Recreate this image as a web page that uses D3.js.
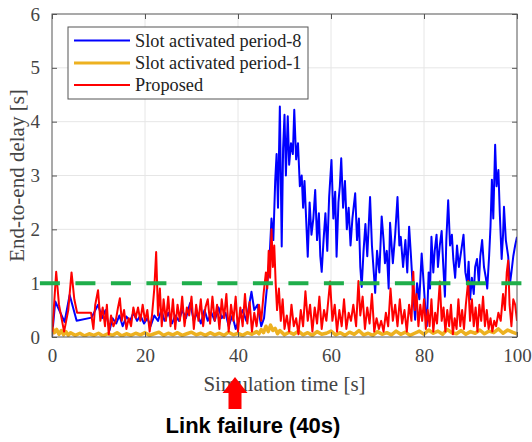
<!DOCTYPE html>
<html><head><meta charset="utf-8">
<script src="https://cdn.jsdelivr.net/npm/d3@7"></script>
<style>html,body{margin:0;padding:0;background:#fff;}svg{display:block;}</style>
</head><body>
<script>
// ---- data ----
const xTicks = [0, 20, 40, 60, 80, 100];
const yTicks = [0, 1, 2, 3, 4, 5, 6];
const seriesNames = ["Slot activated period-8", "Slot activated period-1", "Proposed"];
const thresholdValue = 1;
const thresholdSpan = [-2.6, 101.5];
const annotationTime = 40;
const annotationText = "Link failure (40s)";

const blueTime = [0,0.7,2.7,3.8,5.3,8.5,9.9,10.8,11.5,12.4,13,13.8,14.5,15.2,16,16.8,17.5,18.3,19,19.8,20.5,21.2,22,22.8,23.5,24.2,25,25.8,26.5,27.3,28,28.8,29.7,30.5,31.2,32,32.8,33.5,34.3,35,35.8,36.5,37.3,38,38.8,39.5,40.3,41,41.8,42.9,43.5,44.2,45,45.6,46.2,
46.8,47.2,47.6,48,48.3,48.6,49,49.4,49.7,50,50.3,50.7,51,51.4,51.8,52.1,52.5,52.9,53.3,53.7,54,54.3,54.7,55,55.4,55.8,56.2,56.6,57,57.4,57.7,58,58.4,58.8,59.2,59.6,60.1,60.5,60.9,61.2,61.6,61.9,62.2,62.6,63,63.4,63.8,64.2,64.6,65.2,65.6,66,66.3,66.6,67,67.4,67.8,68.4,68.8,69.2,69.5,69.9,70.4,70.9,71.3,71.6,72,72.4,72.7,73.3,73.8,74.3,74.7,75,75.5,76,76.4,76.8,77.2,77.6,78.1,78.5,79,79.5,80,80.3,80.6,81,81.3,81.6,82,82.3,82.7,83,83.4,83.8,84.1,84.5,84.8,85.2,85.6,86,86.3,86.7,87.1,87.5,88,88.5,88.9,89.3,89.6,89.9,90.3,90.7,91,91.4,91.8,92.1,92.5,92.9,93.3,93.6,94,94.3,94.6,94.9,95.3,95.6,96,96.3,96.7,97,97.2,97.6,98.1,98.5,98.8,99.2,99.6,100];
const blueDelay = [0,0.66,0.28,0.78,0.3,0.36,0.6,0.35,0.5,0.13,0.35,0.25,0.4,0.2,0.38,0.3,0.45,0.3,0.4,0.25,0.35,0.2,0.4,0.3,0.5,0.3,0.45,0.25,0.4,0.3,0.5,0.35,0.63,0.3,0.45,0.25,0.5,0.3,0.45,0.3,0.55,0.35,0.45,0.2,0.4,0.15,0.35,0.5,0.3,0.84,0.5,0.6,0.2,0.35,0.9,
1.5,2.2,1.8,2.9,3.4,2.4,4.28,1.68,3.5,4.13,3.0,4.1,3.2,3.6,3.4,4.22,3.3,3.6,2.8,3.0,2.4,2.9,2.1,1.49,2.5,1.9,2.2,2.73,1.8,2.3,1.5,1.21,1.8,2.3,1.6,2.6,3.29,2.2,2.7,1.49,2.5,2.8,3.32,2.4,2.9,2.0,2.4,1.7,2.2,2.67,1.8,2.2,1.3,0.93,1.6,2.1,1.5,2.6,1.7,1.2,0.82,1.6,1.2,2.24,1.8,1.37,1.6,0.9,2.12,1.37,1.9,2.6,1.7,1.86,1.3,1.8,1.2,2.05,1.5,0.9,0.32,1.0,0.7,1.55,0.9,0.5,0.2,1.2,0.9,1.86,1.2,1.6,1.9,1.3,1.7,1.97,1.4,0.75,1.8,2.54,1.7,1.9,1.45,1.1,1.7,1.3,1.6,1.9,1.2,1.0,1.4,0.7,1.1,0.8,1.3,1.45,1.0,1.5,1.8,1.3,1.1,0.9,1.5,2.05,2.92,2.2,3.57,2.8,3.1,2.3,1.45,1.9,2.42,1.8,1.5,1.0,1.2,1.5,1.7,1.86];

const orangeTime = [0,0.5,1,1.5,2,2.5,3,3.5,4,5,6,7,8,9,10,11,12,13,14,15,16,17,18,19,20,21,22,23,24,25,26,27,28,29,30,31,32,33,34,35,36,37,38,39,40,41,42,43,44,44.5,45,45.5,46,46.5,47,47.5,48,48.5,49,50,51,52,53,54,55,56,57,58,59,60,61,62,63,64,65,66,67,68,69,70,71,72,73,74,75,76,77,78,79,80,81,82,83,84,85,86,87,88,89,90,91,92,93,94,95,96,97,98,99,100];
const orangeDelay = [0.18,0.08,0.14,0.05,0.12,0.04,0.1,0.03,0.08,0.03,0.07,0.02,0.06,0.03,0.07,0.02,0.06,0.03,0.08,0.02,0.06,0.03,0.07,0.04,0.08,0.03,0.06,0.09,0.03,0.07,0.04,0.08,0.03,0.06,0.09,0.04,0.07,0.03,0.08,0.04,0.07,0.03,0.09,0.04,0.07,0.03,0.08,0.05,0.1,0.06,0.14,0.08,0.2,0.1,0.22,0.12,0.16,0.06,0.12,0.04,0.09,0.05,0.11,0.04,0.08,0.03,0.1,0.05,0.07,0.11,0.04,0.08,0.03,0.09,0.05,0.12,0.04,0.07,0.03,0.1,0.05,0.08,0.04,0.11,0.05,0.09,0.03,0.07,0.11,0.05,0.13,0.07,0.11,0.05,0.14,0.08,0.06,0.12,0.05,0.1,0.07,0.13,0.06,0.11,0.08,0.15,0.07,0.13,0.09,0.06,0.12];

const redTime = [0,0.9,1.5,2.6,3.5,4.2,4.8,5.4,8.4,8.9,9.3,9.9,10.4,10.9,11.4,11.8,12.2,12.7,13.2,13.7,14.2,14.6,15,15.5,16,16.5,17,17.5,18,18.5,19,19.5,20,20.5,21,21.5,22,22.4,22.8,23.2,23.6,24,24.5,25,25.5,26,26.5,27,27.5,28,28.5,29,29.5,30,30.5,31,31.5,32,32.5,33,33.5,34,34.5,35,35.5,36,36.5,37,37.5,38,38.5,39,39.5,40,40.5,41,41.5,42,42.5,43,43.5,44,44.5,45,45.5,46,46.3,46.6,46.9,47.2,47.5,47.8,48.1,48.4,48.8,49.2,49.6,50,50.5,51,51.5,52,52.5,53,53.5,54,54.5,55,55.5,56,56.5,57,57.5,58,58.5,59,59.8,60.3,60.8,61.3,61.8,62.3,62.8,63.3,63.8,64.3,64.8,65.4,65.9,66.3,66.8,67.3,67.8,68.3,68.8,69.3,69.8,70.3,70.8,71.3,71.8,72.3,72.8,73.3,73.8,74.3,74.8,75.3,75.8,76.3,76.8,77.3,77.7,78,78.4,78.8,79.2,79.6,80,80.4,80.8,81.2,81.6,82,82.4,82.8,83.4,83.8,84.2,84.6,85,85.4,85.8,86.2,86.6,87,87.4,87.8,88.2,88.6,89,89.5,89.9,90.3,90.7,91.1,91.5,91.9,92.3,92.7,93.1,93.5,93.9,94.3,94.7,95.1,95.5,96,96.5,97,97.4,97.8,98.1,98.4,98.8,99.2,99.6,100];
const redDelay = [0,1.21,0.6,0.1,0.5,1.2,0.7,0.45,0.45,0.15,0.6,0.87,0.3,0.55,0.2,0.6,0.05,0.4,0.2,0.3,0.55,0.72,0.3,0.5,0.15,0.35,0.2,0.55,0.35,0.55,0.3,0.6,0.3,0.5,0.1,0.4,0.9,1.58,0.4,0.9,0.2,0.7,0.3,0.75,0.2,0.7,0.15,0.6,0.3,0.75,0.2,0.55,0.4,0.75,0.15,0.6,0.3,0.7,0.2,0.55,0.7,0.25,0.75,0.3,0.6,0.15,0.7,0.35,0.8,0.1,0.6,0.3,0.75,0.1,0.55,0.2,0.8,0.25,0.65,0.1,0.45,0.2,0.6,0.3,0.8,1.2,0.9,1.6,1.1,2.0,1.3,1.7,1.0,0.5,0.9,0.3,0.7,0.15,0.4,0.1,0.6,0.2,0.35,0.05,0.5,0.2,0.85,0.3,0.6,0.1,0.55,0.25,0.75,0.15,0.5,0.3,1.03,0.3,0.6,0.1,0.5,0.2,0.7,0.15,0.45,0.3,0.6,0.2,1.04,0.4,0.75,0.15,0.55,0.25,0.8,0.1,0.35,0.15,0.3,0.1,0.45,0.2,0.9,0.3,0.6,0.2,0.7,0.25,0.5,0.1,0.6,0.3,1.21,0.5,0.8,0.2,0.6,0.3,0.7,0.15,0.5,0.2,0.7,0.1,0.45,0.25,1.03,0.3,0.55,0.1,0.5,0.2,0.6,0.05,0.35,0.15,0.7,0.2,0.5,0.15,0.6,1.04,0.3,0.7,0.2,0.55,0.1,0.6,0.3,0.75,0.2,0.5,0.15,0.35,0.1,0.3,0.2,0.45,0.3,0.8,0.5,1.2,1.42,0.6,0.2,0.7,0.6,0.3];

// ---- layout ----
const W = 532, H = 442;
const M = {left: 52, right: 15, top: 14, bottom: 105};
const svg = d3.select("body").append("svg").attr("width", W).attr("height", H)
  .style("background", "#fff");

const x = d3.scaleLinear().domain([0, 100]).range([M.left, W - M.right]);
const y = d3.scaleLinear().domain([0, 6]).range([H - M.bottom, M.top]);
const x0 = x.range()[0], x1 = x.range()[1], y0 = y.range()[0], y1 = y.range()[1];

const serif = "'Liberation Serif','Times New Roman',serif";
const axisColor = "#555";

// grid
const grid = svg.append("g");
grid.selectAll("line.vx").data(xTicks.slice(1, -1)).join("line")
  .attr("x1", d => x(d)).attr("x2", d => x(d)).attr("y1", y1).attr("y2", y0)
  .attr("stroke", "#e6e6e6").attr("stroke-width", 1);
grid.selectAll("line.hy").data(yTicks.slice(1, -1)).join("line")
  .attr("y1", d => y(d)).attr("y2", d => y(d)).attr("x1", x0).attr("x2", x1)
  .attr("stroke", "#e6e6e6").attr("stroke-width", 1);

// clip for data
svg.append("clipPath").attr("id", "clip").append("rect")
  .attr("x", x0).attr("y", y1 - 2).attr("width", x1 - x0).attr("height", y0 - y1 + 2);

const line = d3.line().x(d => x(d[0])).y(d => y(d[1]));
const zip = (t, v) => t.map((d, i) => [d, v[i]]);

const plot = svg.append("g").attr("clip-path", "url(#clip)");
plot.append("path").datum(zip(blueTime, blueDelay)).attr("d", line)
  .attr("fill", "none").attr("stroke", "#0000ff").attr("stroke-width", 2).attr("stroke-linejoin", "round");
plot.append("path").datum(zip(orangeTime, orangeDelay)).attr("d", line)
  .attr("fill", "none").attr("stroke", "#edb120").attr("stroke-width", 3.5).attr("stroke-linejoin", "round");
plot.append("path").datum(zip(redTime, redDelay)).attr("d", line)
  .attr("fill", "none").attr("stroke", "#ff0000").attr("stroke-width", 2).attr("stroke-linejoin", "round");

// axes box
svg.append("rect").attr("x", x0).attr("y", y1).attr("width", x1 - x0).attr("height", y0 - y1)
  .attr("fill", "none").attr("stroke", axisColor).attr("stroke-width", 1);

const fmt = d3.format("d");
const axB = d3.axisBottom(x).tickValues(xTicks).tickSize(-5).tickPadding(12).tickFormat(fmt);
const axT = d3.axisTop(x).tickValues(xTicks).tickSize(-5).tickFormat("");
const axL = d3.axisLeft(y).tickValues(yTicks).tickSize(-5).tickPadding(12).tickFormat(fmt);
const axR = d3.axisRight(y).tickValues(yTicks).tickSize(-5).tickFormat("");
function styleAxis(g) {
  g.select(".domain").remove();
  g.selectAll(".tick line").attr("stroke", axisColor);
  g.selectAll(".tick text").attr("fill", "#444").style("font-family", serif).style("font-size", "19px");
}
svg.append("g").attr("transform", `translate(0,${y0})`).call(axB).call(styleAxis);
svg.append("g").attr("transform", `translate(0,${y1})`).call(axT).call(styleAxis);
svg.append("g").attr("transform", `translate(${x0},0)`).call(axL).call(styleAxis);
svg.append("g").attr("transform", `translate(${x1},0)`).call(axR).call(styleAxis);

// threshold dashed line (drawn over tick label, as in reference)
svg.append("line")
  .attr("x1", x(thresholdSpan[0])).attr("x2", x(thresholdSpan[1]))
  .attr("y1", y(thresholdValue)).attr("y2", y(thresholdValue))
  .attr("stroke", "#1fae4b").attr("stroke-width", 4).attr("stroke-dasharray", "20,15.5");

// axis titles
svg.append("text").attr("x", (x0 + x1) / 2).attr("y", 391).attr("text-anchor", "middle")
  .style("font-family", serif).style("font-size", "21px").attr("fill", "#444")
  .text("Simulation time [s]");
svg.append("text").attr("transform", `translate(24,${(y0 + y1) / 2}) rotate(-90)`)
  .attr("text-anchor", "middle").style("font-family", serif).style("font-size", "21px").attr("fill", "#444")
  .text("End-to-end delay [s]");

// legend
const leg = svg.append("g");
leg.append("rect").attr("x", 68).attr("y", 27).attr("width", 240).attr("height", 72)
  .attr("fill", "#fff").attr("stroke", axisColor).attr("stroke-width", 1);
const legColors = ["#0000ff", "#edb120", "#ff0000"];
const legW = [2, 3, 2];
const legY = [40.5, 63, 85];
seriesNames.forEach((n, i) => {
  leg.append("line").attr("x1", 74).attr("x2", 130).attr("y1", legY[i]).attr("y2", legY[i])
    .attr("stroke", legColors[i]).attr("stroke-width", legW[i]);
  leg.append("text").attr("x", 135).attr("y", legY[i]).attr("dy", "0.35em")
    .style("font-family", serif).style("font-size", "18.3px").attr("fill", "#222").text(n);
});

// annotation arrow
const ax = x(annotationTime) - 3;
const arrow = d3.path();
arrow.moveTo(ax, 377);
arrow.lineTo(ax + 12.5, 393);
arrow.lineTo(ax + 6.5, 393);
arrow.lineTo(ax + 6.5, 409);
arrow.lineTo(ax - 6.5, 409);
arrow.lineTo(ax - 6.5, 393);
arrow.lineTo(ax - 12.5, 393);
arrow.closePath();
svg.append("path").attr("d", arrow.toString()).attr("fill", "#ff0000");
svg.append("text").attr("x", 253).attr("y", 433).attr("text-anchor", "middle")
  .style("font-family", "'Liberation Sans',Arial,sans-serif").style("font-weight", "bold")
  .style("font-size", "22px").attr("fill", "#000").text(annotationText);
</script>
</body></html>
